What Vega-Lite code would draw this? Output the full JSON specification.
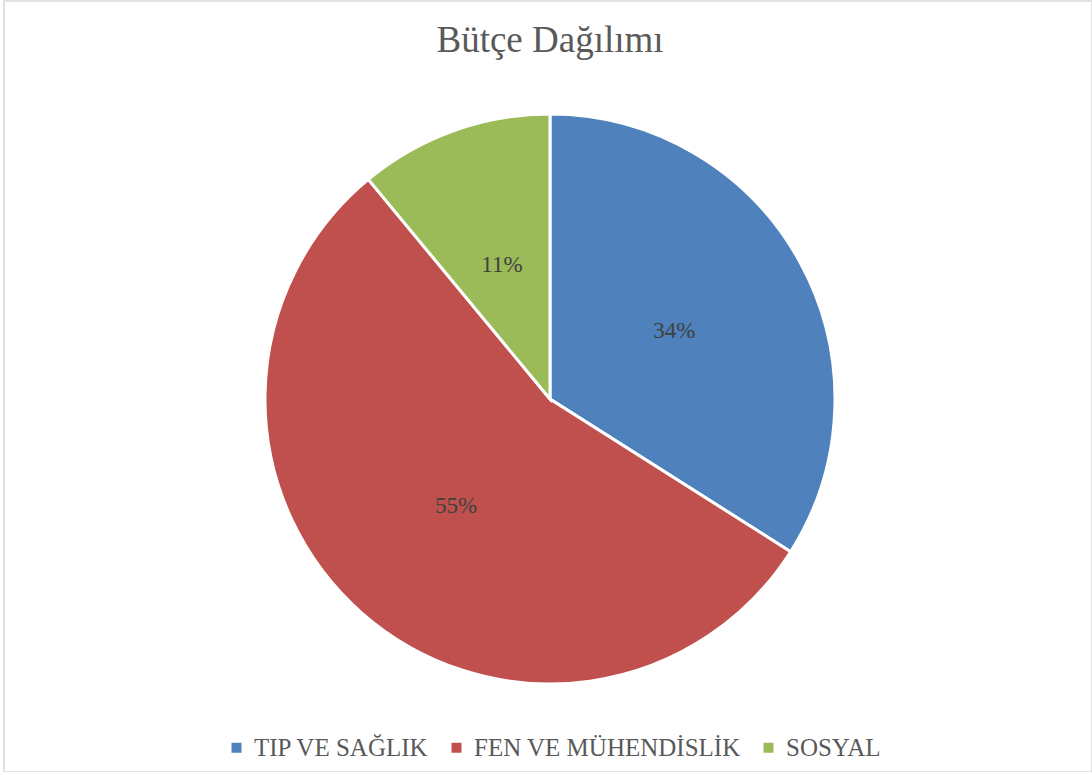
{
  "$schema": "https://vega.github.io/schema/vega-lite/v6.json",
  "width": 1088,
  "height": 771,
  "autosize": {"type": "none"},
  "padding": {"left": 4, "top": 1, "right": 0, "bottom": 0},
  "background": "white",
  "view": {"stroke": "#d9d9d9", "strokeWidth": 1.5},
  "config": {
    "view": {"stroke": "#d9d9d9", "strokeWidth": 1.5},
    "font": "Liberation Serif"
  },
  "title": {
    "text": "Bütçe Dağılımı",
    "font": "Liberation Serif",
    "fontSize": 37,
    "fontWeight": "normal",
    "color": "#595959",
    "anchor": "middle",
    "baseline": "alphabetic",
    "offset": -51,
    "dy": 37,
    "dx": 2
  },
  "data": {
    "values": [
      {"category": "TIP VE SAĞLIK", "value": 0.34, "order": 1},
      {"category": "FEN VE MÜHENDİSLİK", "value": 0.55, "order": 2},
      {"category": "SOSYAL", "value": 0.11, "order": 3}
    ]
  },
  "encoding": {
    "theta": {"field": "value", "type": "quantitative", "stack": true},
    "order": {"field": "order", "type": "quantitative"},
    "color": {
      "field": "category",
      "type": "nominal",
      "sort": ["TIP VE SAĞLIK", "FEN VE MÜHENDİSLİK", "SOSYAL"],
      "scale": {
        "domain": ["TIP VE SAĞLIK", "FEN VE MÜHENDİSLİK", "SOSYAL"],
        "range": ["#4F81BD", "#C0504D", "#9BBB59"]
      },
      "legend": {
        "title": null,
        "orient": "none",
        "direction": "horizontal",
        "legendX": 220,
        "legendY": 734,
        "symbolType": "square",
        "symbolSize": 100,
        "symbolStrokeWidth": 0,
        "labelFont": "Liberation Serif",
        "labelFontSize": 25,
        "labelColor": "#595959",
        "labelOffset": 5,
        "columnPadding": 15,
        "labelLimit": 400
      }
    }
  },
  "layer": [
    {
      "mark": {
        "type": "arc",
        "outerRadius": 285,
        "stroke": "white",
        "strokeWidth": 3,
        "xOffset": 2,
        "yOffset": 12.5
      }
    },
    {
      "mark": {
        "type": "text",
        "radius": 142,
        "font": "Liberation Serif",
        "fontSize": 23,
        "color": "#404040",
        "xOffset": 2,
        "yOffset": 12.5
      },
      "encoding": {
        "text": {"field": "value", "type": "quantitative", "format": ".0%"},
        "color": {"value": "#404040"}
      }
    }
  ]
}
